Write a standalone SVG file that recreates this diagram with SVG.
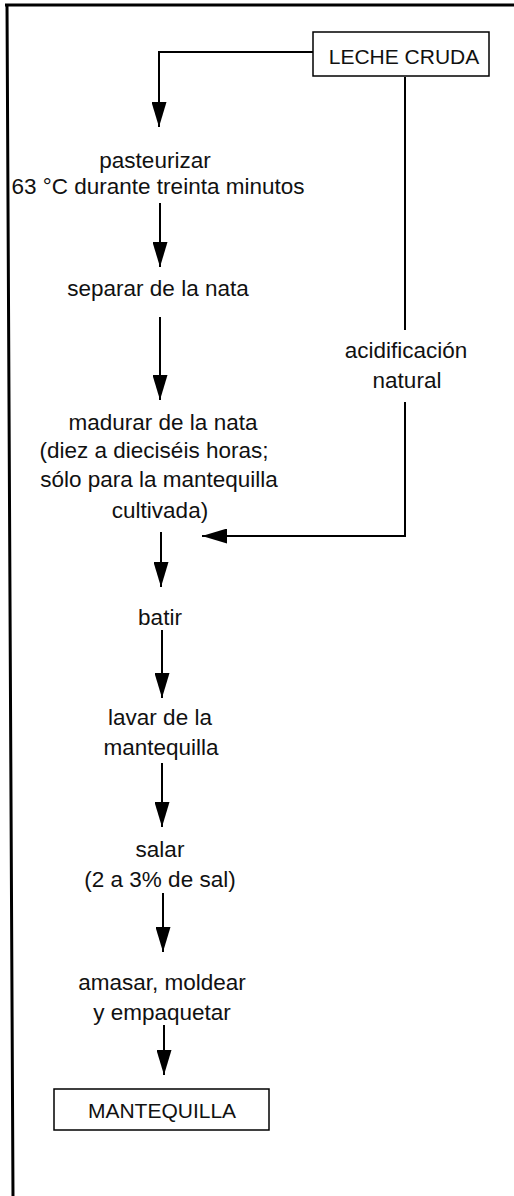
<svg xmlns="http://www.w3.org/2000/svg" width="514" height="1196" viewBox="0 0 514 1196">
<style>
text{font-family:"Liberation Sans","DejaVu Sans",sans-serif;font-size:22.5px;fill:#111;text-anchor:middle}
text.cap{font-size:21px}
.c{stroke:#000;stroke-width:2;fill:none}
.box{stroke:#000;stroke-width:1.5;fill:#fff}
.frame{stroke:#000;stroke-width:3;fill:none}
</style>
<defs>
<marker id="ah" viewBox="0 0 25 15" refX="25" refY="7.5" markerWidth="25" markerHeight="15" markerUnits="userSpaceOnUse" orient="auto">
<path d="M0,0 L25,7.5 L0,15 Z" fill="#000"/>
</marker>
</defs>
<g id="frame">
<path class="frame" d="M5,5 L514,5 M7,4 L13,1196"/>
</g>
<g id="connectors">
<path class="c" d="M313,52 L159,52 L159,127" marker-end="url(#ah)"/>
<path class="c" d="M405,77 L405,330"/>
<path class="c" d="M405,402 L405,536 L202,536" marker-end="url(#ah)"/>
<path class="c" d="M160,203 L160,267" marker-end="url(#ah)"/>
<path class="c" d="M160,317 L160,400" marker-end="url(#ah)"/>
<path class="c" d="M161,532 L161,587" marker-end="url(#ah)"/>
<path class="c" d="M162,630 L162,698" marker-end="url(#ah)"/>
<path class="c" d="M162,763 L162,827" marker-end="url(#ah)"/>
<path class="c" d="M163,893 L163,952" marker-end="url(#ah)"/>
<path class="c" d="M164,1025 L164,1075" marker-end="url(#ah)"/>
</g>
<g id="n-leche">
<rect class="box" x="313" y="32" width="176" height="44"/>
<text class="cap" x="404" y="64">LECHE CRUDA</text>
</g>
<g id="n-pasteurizar">
<text x="155" y="168">pasteurizar</text>
<text x="158" y="194">63 °C durante treinta minutos</text>
</g>
<g id="n-separar">
<text x="158" y="296">separar de la nata</text>
</g>
<g id="n-acidificacion">
<text x="406" y="358">acidificación</text>
<text x="407" y="388">natural</text>
</g>
<g id="n-madurar">
<text x="163" y="430">madurar de la nata</text>
<text x="154" y="458">(diez a dieciséis horas;</text>
<text x="159" y="487">sólo para la mantequilla</text>
<text x="160" y="518">cultivada)</text>
</g>
<g id="n-batir">
<text x="160" y="625">batir</text>
</g>
<g id="n-lavar">
<text x="160" y="725">lavar de la</text>
<text x="161" y="755">mantequilla</text>
</g>
<g id="n-salar">
<text x="160" y="857">salar</text>
<text x="160" y="887">(2 a 3% de sal)</text>
</g>
<g id="n-amasar">
<text x="162" y="990">amasar, moldear</text>
<text x="162" y="1020">y empaquetar</text>
</g>
<g id="n-mantequilla">
<rect class="box" x="54" y="1089" width="215" height="41"/>
<text class="cap" x="162" y="1118">MANTEQUILLA</text>
</g>
</svg>
